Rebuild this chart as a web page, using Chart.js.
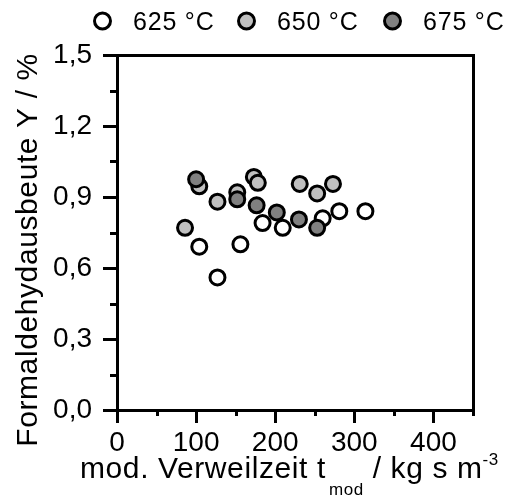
<!DOCTYPE html>
<html>
<head>
<meta charset="utf-8">
<script src="https://cdn.jsdelivr.net/npm/chart.js@4.4.1/dist/chart.umd.min.js"></script>
<style>
html,body{margin:0;padding:0;background:#fff;}
#wrap{width:512px;height:499px;position:relative;}
</style>
</head>
<body>
<div id="wrap"><canvas id="c" width="512" height="499"></canvas></div>
<script>
// ---- data ----
const seriesLabels = ['625 °C', '650 °C', '675 °C'];
const seriesColors = ['#ffffff', '#c0c0c0', '#808080'];

const x625 = [104, 127, 156, 184, 209.5, 260, 281, 314];
const y625 = [0.69, 0.56, 0.70, 0.79, 0.77, 0.81, 0.84, 0.84];

const x650 = [86, 104, 127, 152, 173, 178, 231, 253, 273];
const y650 = [0.77, 0.945, 0.88, 0.92, 0.985, 0.96, 0.955, 0.915, 0.955];

const x675 = [100, 152, 176.5, 202, 230, 253];
const y675 = [0.975, 0.89, 0.865, 0.835, 0.805, 0.77];

const xMajorTicks = [0, 100, 200, 300, 400];
const xTickLabels = ['0', '100', '200', '300', '400'];
const xMinorTicks = [50, 150, 250, 350, 450];
const yMajorTicks = [0, 0.3, 0.6, 0.9, 1.2, 1.5];
const yTickLabels = ['0,0', '0,3', '0,6', '0,9', '1,2', '1,5'];
const yMinorTicks = [0.15, 0.45, 0.75, 1.05, 1.35];

const yTitle = 'Formaldehydausbeute Y / %';
const xTitleParts = ['mod. Verweilzeit t', 'mod', ' / kg s m', '-3'];

// ---- chart ----
const FONT = '"Liberation Sans", Arial, sans-serif';
const toPts = (xs, ys) => xs.map((x, i) => ({x: x, y: ys[i]}));

const extras = {
  id: 'extras',
  afterDraw(chart) {
    const ctx = chart.ctx;
    const xs = chart.scales.x, ys = chart.scales.y;
    const area = chart.chartArea;
    ctx.save();
    ctx.strokeStyle = '#000';
    ctx.lineWidth = 3;
    // minor ticks
    yMinorTicks.forEach(v => {
      const p = Math.round(ys.getPixelForValue(v)) + 0.5;
      ctx.beginPath(); ctx.moveTo(area.left - 7, p); ctx.lineTo(area.left, p); ctx.stroke();
    });
    xMinorTicks.forEach(v => {
      const p = Math.round(xs.getPixelForValue(v)) + 0.5;
      ctx.beginPath(); ctx.moveTo(p, area.bottom); ctx.lineTo(p, area.bottom + 6); ctx.stroke();
    });
    // legend
    ctx.font = '25px ' + FONT;
    ctx.letterSpacing = '0.8px';
    ctx.textBaseline = 'alphabetic';
    ctx.textAlign = 'left';
    ctx.fillStyle = '#000';
    const cx = [102.5, 246.5, 392.5];
    chart.data.datasets.forEach((ds, i) => {
      ctx.beginPath();
      ctx.arc(cx[i], 21, 8, 0, Math.PI * 2);
      ctx.fillStyle = ds.backgroundColor;
      ctx.fill();
      ctx.lineWidth = 3;
      ctx.stroke();
      ctx.fillStyle = '#000';
      ctx.fillText(ds.label, cx[i] + 30.5, 30);
    });
    // x title
    let x = 80;
    const big = '30px ' + FONT, small = '17px ' + FONT;
    ctx.letterSpacing = '0.6px';
    ctx.font = big; ctx.fillText(xTitleParts[0], x, 478); x += ctx.measureText(xTitleParts[0]).width + 3;
    ctx.font = small; ctx.fillText(xTitleParts[1], x, 495); x += ctx.measureText(xTitleParts[1]).width;
    ctx.font = big; ctx.fillText(xTitleParts[2], x, 478); x += ctx.measureText(xTitleParts[2]).width;
    ctx.font = small; ctx.fillText(xTitleParts[3], x, 465);
    // y title
    ctx.translate(37, 250);
    ctx.rotate(-Math.PI / 2);
    ctx.font = big;
    ctx.textAlign = 'center';
    ctx.fillText(yTitle, 0, 0);
    ctx.restore();
  }
};

const tickFont = {family: FONT, size: 28};

new Chart(document.getElementById('c'), {
  type: 'scatter',
  data: {
    datasets: [
      {label: seriesLabels[0], data: toPts(x625, y625), backgroundColor: seriesColors[0], order: 3},
      {label: seriesLabels[1], data: toPts(x650, y650), backgroundColor: seriesColors[1], order: 2},
      {label: seriesLabels[2], data: toPts(x675, y675), backgroundColor: seriesColors[2], order: 1}
    ].map(d => Object.assign(d, {
      borderColor: '#000', borderWidth: 3, pointRadius: 7.5, pointHoverRadius: 7.5, pointStyle: 'circle'
    }))
  },
  options: {
    responsive: false,
    animation: false,
    devicePixelRatio: 1,
    events: [],
    layout: {padding: {top: 55, left: 0, right: 0, bottom: 0}},
    plugins: {legend: {display: false}, tooltip: {enabled: false}},
    scales: {
      x: {
        type: 'linear', position: 'bottom', min: 0, max: 450,
        afterBuildTicks: s => { s.ticks = xMajorTicks.map(v => ({value: v})); },
        afterFit: s => { s.height = 89; },
        ticks: {font: tickFont, color: '#000', padding: 3, maxRotation: 0, autoSkip: false,
          callback: v => xTickLabels[xMajorTicks.indexOf(v)]},
        grid: {drawOnChartArea: false, drawTicks: true, tickLength: 13, tickWidth: 3, tickColor: '#000'},
        border: {display: true, color: '#000', width: 3}
      },
      y: {
        type: 'linear', position: 'left', min: 0, max: 1.5,
        afterBuildTicks: s => { s.ticks = yMajorTicks.map(v => ({value: v})); },
        afterFit: s => { s.width = 117; },
        ticks: {font: tickFont, color: '#000', padding: 11, autoSkip: false,
          callback: v => yTickLabels[yMajorTicks.indexOf(v)]},
        grid: {drawOnChartArea: false, drawTicks: true, tickLength: 14, tickWidth: 3, tickColor: '#000'},
        border: {display: true, color: '#000', width: 3}
      },
      x2: {
        type: 'linear', position: 'top', min: 0, max: 450,
        afterFit: s => { s.height = 0; },
        ticks: {display: false},
        grid: {display: false, drawTicks: false},
        border: {display: true, color: '#000', width: 3}
      },
      y2: {
        type: 'linear', position: 'right', min: 0, max: 1.5,
        afterFit: s => { s.width = 39; },
        ticks: {display: false},
        grid: {display: false, drawTicks: false},
        border: {display: true, color: '#000', width: 3}
      }
    }
  },
  plugins: [extras]
});
</script>
</body>
</html>
